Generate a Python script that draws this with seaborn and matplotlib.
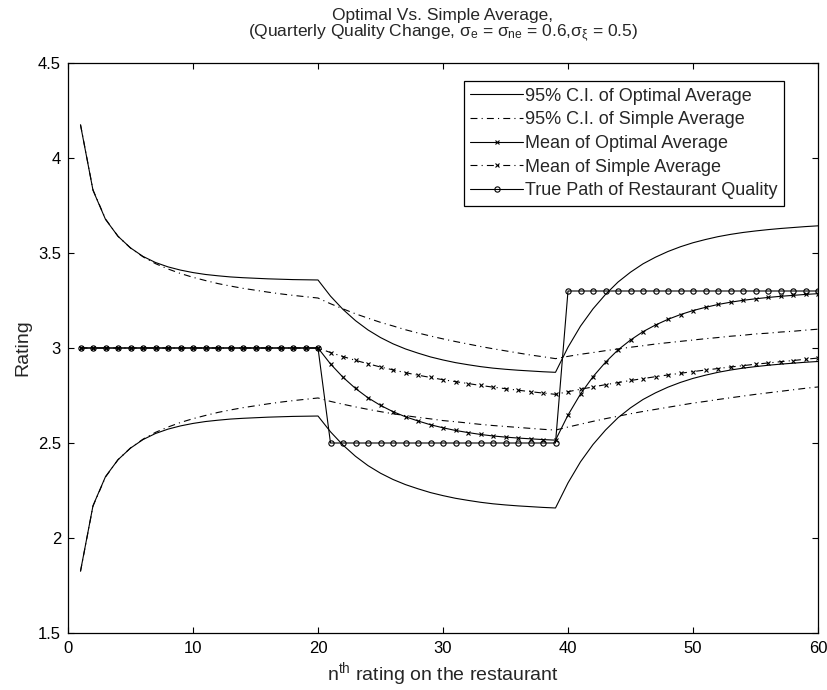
import matplotlib
matplotlib.use("Agg")
import matplotlib.pyplot as plt
import seaborn as sns
import pandas as pd

# ---------------- data ----------------
n = list(range(1, 61))

true_path = [3.0] * 20 + [2.5] * 19 + [3.3] * 21

opt_mean = [3.0] * 20 + [
    2.916, 2.846, 2.787, 2.738, 2.698, 2.665, 2.638, 2.616, 2.596, 2.580,
    2.566, 2.555, 2.545, 2.537, 2.531, 2.526, 2.522, 2.518, 2.515,
    2.647, 2.758, 2.849, 2.925, 2.990, 3.042, 3.086, 3.121, 3.151, 3.176,
    3.197, 3.214, 3.229, 3.241, 3.251, 3.259, 3.266, 3.272, 3.277, 3.282, 3.286]

opt_upper = [
    4.174, 3.830, 3.677, 3.588, 3.527, 3.482, 3.450, 3.427, 3.410, 3.397,
    3.387, 3.380, 3.374, 3.370, 3.367, 3.364, 3.362, 3.360, 3.359, 3.358,
    3.273, 3.203, 3.144, 3.095, 3.055, 3.022, 2.995, 2.973, 2.953, 2.937,
    2.923, 2.912, 2.902, 2.894, 2.888, 2.883, 2.879, 2.875, 2.872,
    3.004, 3.115, 3.206, 3.282, 3.347, 3.399, 3.443, 3.478, 3.508, 3.533,
    3.554, 3.571, 3.586, 3.598, 3.608, 3.616, 3.623, 3.629, 3.634, 3.639, 3.643]

opt_lower = [
    1.826, 2.170, 2.323, 2.412, 2.473, 2.518, 2.550, 2.573, 2.590, 2.603,
    2.613, 2.620, 2.626, 2.630, 2.633, 2.636, 2.638, 2.640, 2.641, 2.642,
    2.559, 2.489, 2.430, 2.381, 2.341, 2.308, 2.281, 2.259, 2.239, 2.223,
    2.209, 2.198, 2.188, 2.180, 2.174, 2.169, 2.165, 2.161, 2.158,
    2.290, 2.401, 2.492, 2.568, 2.633, 2.685, 2.729, 2.764, 2.794, 2.819,
    2.840, 2.857, 2.872, 2.884, 2.894, 2.902, 2.909, 2.915, 2.920, 2.925, 2.929]

simple_mean = [3.0] * 20 + [
    2.976, 2.955, 2.935, 2.917, 2.900, 2.885, 2.870, 2.857, 2.845, 2.833,
    2.823, 2.813, 2.803, 2.794, 2.786, 2.778, 2.770, 2.763, 2.756,
    2.770, 2.783, 2.795, 2.807, 2.818, 2.829, 2.839, 2.849, 2.858, 2.867,
    2.876, 2.884, 2.892, 2.900, 2.907, 2.915, 2.921, 2.928, 2.934, 2.941, 2.947]

simple_upper = [
    4.176, 3.832, 3.679, 3.588, 3.526, 3.480, 3.444, 3.416, 3.392, 3.372,
    3.355, 3.339, 3.326, 3.314, 3.304, 3.294, 3.285, 3.277, 3.270, 3.263,
    3.233, 3.206, 3.180, 3.157, 3.135, 3.116, 3.096, 3.079, 3.063, 3.048,
    3.034, 3.021, 3.008, 2.996, 2.985, 2.974, 2.963, 2.954, 2.944,
    2.956, 2.967, 2.976, 2.986, 2.995, 3.004, 3.012, 3.021, 3.028, 3.035,
    3.042, 3.049, 3.055, 3.062, 3.067, 3.074, 3.078, 3.084, 3.088, 3.094, 3.099]

simple_lower = [
    1.824, 2.168, 2.321, 2.412, 2.474, 2.520, 2.556, 2.584, 2.608, 2.628,
    2.645, 2.661, 2.674, 2.686, 2.696, 2.706, 2.715, 2.723, 2.730, 2.737,
    2.719, 2.704, 2.690, 2.677, 2.665, 2.654, 2.644, 2.635, 2.627, 2.618,
    2.612, 2.605, 2.598, 2.592, 2.587, 2.582, 2.577, 2.572, 2.568,
    2.584, 2.599, 2.614, 2.628, 2.641, 2.654, 2.666, 2.677, 2.688, 2.699,
    2.710, 2.719, 2.729, 2.738, 2.747, 2.756, 2.764, 2.772, 2.780, 2.788, 2.795]

labels = ["95% C.I. of Optimal Average",
          "95% C.I. of Simple Average",
          "Mean of Optimal Average",
          "Mean of Simple Average",
          "True Path of Restaurant Quality"]

x_ticks = [0, 10, 20, 30, 40, 50, 60]
y_ticks = [1.5, 2, 2.5, 3, 3.5, 4, 4.5]
y_tick_labels = ["1.5", "2", "2.5", "3", "3.5", "4", "4.5"]

# ---------------- style ----------------
sns.set_style("ticks")
fam = "Liberation Sans"
plt.rcParams["font.family"] = [fam, "DejaVu Sans"]
plt.rcParams["mathtext.fontset"] = "custom"
plt.rcParams["mathtext.rm"] = fam
plt.rcParams["mathtext.it"] = fam
plt.rcParams["mathtext.sf"] = fam
plt.rcParams["lines.scale_dashes"] = False
plt.rcParams["xtick.direction"] = "in"
plt.rcParams["ytick.direction"] = "in"

fig = plt.figure(figsize=(8.27, 6.90), dpi=100)
ax = fig.add_axes([68 / 827, 1 - 633 / 690, 750 / 827, 570 / 690])

LW = 0.8
dashdot = (0, (5, 3, 0.8, 3))
k = "black"

df = pd.DataFrame({"n": n, "opt_u": opt_upper, "opt_l": opt_lower,
                   "sim_u": simple_upper, "sim_l": simple_lower,
                   "opt_m": opt_mean, "sim_m": simple_mean, "true": true_path})

h = {}
sns.lineplot(data=df, x="n", y="opt_u", ax=ax, color=k, lw=LW, linestyle="-")
h[0] = ax.lines[-1]
sns.lineplot(data=df, x="n", y="sim_u", ax=ax, color=k, lw=LW, linestyle=dashdot)
h[1] = ax.lines[-1]
sns.lineplot(data=df, x="n", y="opt_m", ax=ax, color=k, lw=LW, linestyle="-",
             marker="x", markersize=3.4, markeredgewidth=0.8, markeredgecolor=k)
h[2] = ax.lines[-1]
sns.lineplot(data=df, x="n", y="sim_m", ax=ax, color=k, lw=LW, linestyle=dashdot,
             marker="x", markersize=3.4, markeredgewidth=0.8, markeredgecolor=k)
h[3] = ax.lines[-1]
sns.lineplot(data=df, x="n", y="true", ax=ax, color=k, lw=LW, linestyle="-",
             marker="o", markersize=3.8, markerfacecolor="none",
             markeredgecolor=k, markeredgewidth=0.8)
h[4] = ax.lines[-1]
sns.lineplot(data=df, x="n", y="opt_l", ax=ax, color=k, lw=LW, linestyle="-")
sns.lineplot(data=df, x="n", y="sim_l", ax=ax, color=k, lw=LW, linestyle=dashdot)

ax.set_xlim(0, 60)
ax.set_ylim(1.5, 4.5)
ax.set_xticks(x_ticks)
ax.set_xticklabels([str(t) for t in x_ticks])
ax.set_yticks(y_ticks)
ax.set_yticklabels(y_tick_labels)
ax.tick_params(axis="both", which="both", direction="in", length=4.5, width=0.8,
               top=True, right=True, labelsize=12, colors="black")
ax.tick_params(axis="x", pad=6)
ax.tick_params(axis="y", pad=5)
for s in ax.spines.values():
    s.set_visible(True)
    s.set_linewidth(0.9)
    s.set_color("black")

ax.set_xlabel(r"n$^{\mathrm{th}}$ rating on the restaurant", fontsize=14, labelpad=3)
ax.set_ylabel("Rating", fontsize=14, labelpad=5)
ax.set_title("Optimal Vs. Simple Average,\n"
             r"(Quarterly Quality Change, $\sigma_e$ = $\sigma_{ne}$ = 0.6,$\sigma_\xi$ = 0.5)",
             fontsize=12.5, pad=19, linespacing=1.0)

leg = ax.legend([h[i] for i in range(5)], labels, loc="upper right",
                bbox_to_anchor=(0.955, 0.968), borderaxespad=0, fontsize=13,
                frameon=True, fancybox=False, shadow=False, handlelength=2.9,
                handletextpad=0.15, labelspacing=0.37, borderpad=0.35)
leg.get_frame().set_edgecolor("black")
leg.get_frame().set_linewidth(0.9)
leg.get_frame().set_alpha(1)

fig.savefig("out.png", dpi=100)
